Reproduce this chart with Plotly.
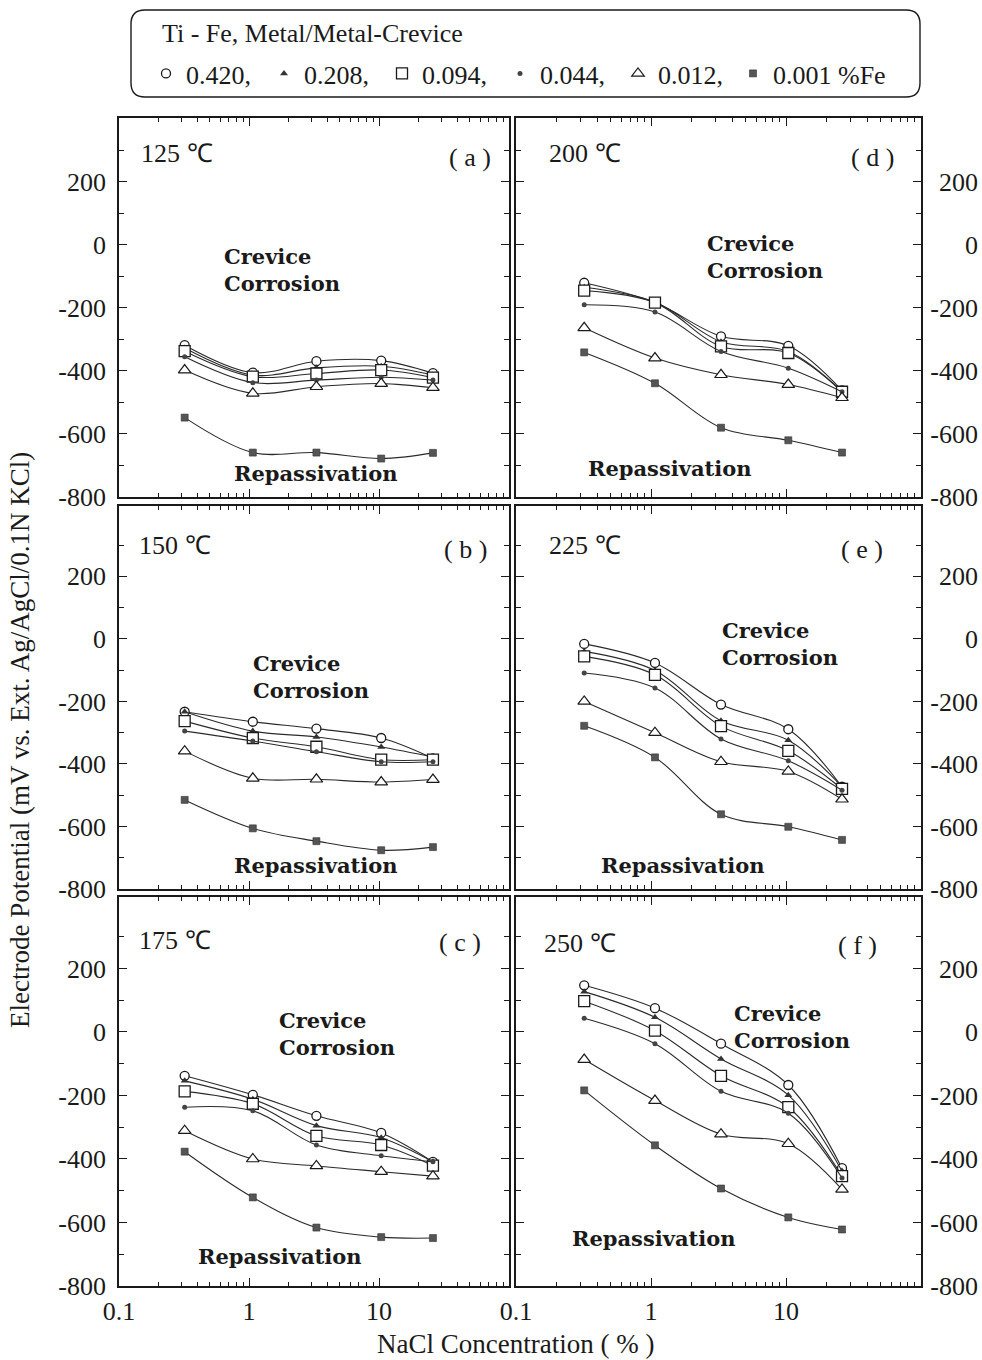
import plotly.graph_objects as go

W, H = 982, 1360

# ---------------- data ----------------
conc = [0.32, 1.07, 3.3, 10.4, 26]          # NaCl concentration (%)
fe_labels = ["0.420,", "0.208,", "0.094,", "0.044,", "0.012,", "0.001 %Fe"]
legend_title = "Ti - Fe, Metal/Metal-Crevice"

# series order: 0.420, 0.208, 0.094, 0.044, 0.012, 0.001 %Fe  (mV)
t125 = [[-318, -405, -369, -367, -407],
        [-327, -413, -390, -385, -413],
        [-337, -418, -408, -397, -421],
        [-355, -437, -429, -420, -429],
        [-397, -471, -450, -440, -453],
        [-548, -659, -659, -678, -660]]
t150 = [[-233, -265, -287, -317, -382],
        [-233, -295, -314, -346, -378],
        [-263, -317, -345, -386, -386],
        [-295, -327, -361, -393, -393],
        [-359, -446, -449, -458, -450],
        [-515, -606, -647, -676, -666]]
t175 = [[-138, -198, -264, -318, -409],
        [-154, -212, -295, -333, -409],
        [-187, -226, -327, -356, -421],
        [-237, -248, -356, -390, -409],
        [-311, -400, -422, -440, -454],
        [-377, -521, -616, -646, -649]]
t200 = [[-120, -183, -290, -320, -462],
        [-134, -181, -307, -338, -465],
        [-145, -183, -322, -343, -466],
        [-190, -213, -338, -391, -466],
        [-263, -359, -412, -443, -485],
        [-341, -439, -580, -620, -659]]
t225 = [[-16, -77, -210, -289, -473],
        [-40, -101, -262, -324, -473],
        [-56, -115, -279, -358, -480],
        [-109, -157, -320, -390, -484],
        [-200, -300, -393, -424, -513],
        [-278, -379, -561, -601, -643]]
t250 = [[147, 75, -37, -167, -429],
        [127, 46, -85, -199, -438],
        [97, 4, -138, -237, -454],
        [43, -37, -187, -256, -460],
        [-87, -216, -322, -352, -496],
        [-184, -357, -493, -584, -622]]

temp_labels = ["125 \u2103", "150 \u2103", "175 \u2103", "200 \u2103", "225 \u2103", "250 \u2103"]
panel_letters = ["( a )", "( b )", "( c )", "( d )", "( e )", "( f )"]
panel_data = [t125, t150, t175, t200, t225, t250]

x_tickvals = [0.1, 1, 10]
x_ticktext = ["0.1", "1", "10"]
y_tickvals = [-800, -600, -400, -200, 0, 200]
y_ticktext = [str(v) for v in y_tickvals]
y_minor = [-700, -500, -300, -100, 100, 300]
x_minor = [m * d for d in (0.1, 1, 10) for m in range(2, 10)]

# ---------------- styling ----------------
SERIF = "Liberation Serif, Times New Roman, serif"
BOLD = "DejaVu Serif, serif"
INK = "#1a1a1a"

marker_styles = [
    dict(symbol="circle", size=9, color="white", line=dict(color=INK, width=1.3)),
    dict(symbol="triangle-up", size=7, color="#333", line=dict(color="#333", width=0)),
    dict(symbol="square", size=11, color="white", line=dict(color=INK, width=1.3)),
    dict(symbol="circle", size=5, color="#444", line=dict(color="#444", width=0)),
    dict(symbol="triangle-up", size=11, color="white", line=dict(color=INK, width=1.2)),
    dict(symbol="square", size=7, color="#555", line=dict(color="#333", width=0.6)),
]

# panel geometry in page pixels: (col, row)
cols_px = [(119, 509), (516, 921)]
rows_px = [(118, 497), (506, 889), (897, 1286)]
row_yrange = [(-800, 403), (-800, 425), (-800, 425)]
panel_pos = [(0, 0), (0, 1), (0, 2), (1, 0), (1, 1), (1, 2)]
right_label_edge = 978   # right-aligned tick labels of the right column

# text positions (page pixel centres)
temp_pos = [(177, 153), (175, 545), (175, 940), (585, 153), (585, 545), (580, 943)]
letter_pos = [(470, 157), (465, 549), (460, 942), (872, 157), (862, 549), (857, 945)]
crev_pos = [(222, 270), (251, 677), (277, 1034), (705, 257), (720, 644), (732, 1027)]
rep_pos = [(316, 473), (316, 865), (280, 1256), (670, 468), (683, 865), (654, 1238)]


def px(x, y):
    return x / W, 1 - y / H


def note(text, x, y, font, xanchor="center", **kw):
    a, b = px(x, y)
    return dict(text=text, x=a, y=b, xref="paper", yref="paper", xanchor=xanchor,
                yanchor="middle", showarrow=False, font=font, **kw)


fig = go.Figure()
layout = {}
annotations = []
f_reg = dict(family=SERIF, size=26, color=INK)
f_bold = dict(family=BOLD, size=21, color=INK)

extra = 7
for i, data in enumerate(panel_data):
    n = i + 1
    col, row = panel_pos[i]
    xa = "x" if n == 1 else f"x{n}"
    ya = "y" if n == 1 else f"y{n}"
    for s, vals in enumerate(data):
        fig.add_trace(go.Scatter(
            x=conc, y=vals, xaxis=xa, yaxis=ya,
            mode="lines+markers",
            line=dict(color="#2a2a2a", width=1.1, shape="spline", smoothing=1.0),
            marker=marker_styles[s], showlegend=False, hoverinfo="x+y"))
    x0, _ = px(cols_px[col][0], 0)
    x1, _ = px(cols_px[col][1], 0)
    _, yt = px(0, rows_px[row][0])
    _, yb = px(0, rows_px[row][1])
    bottom = row == 2
    layout["xaxis" if n == 1 else f"xaxis{n}"] = dict(
        type="log", range=[-1, 2], domain=[x0, x1],
        anchor=ya, showline=True, linecolor=INK, linewidth=1.6, mirror="ticks",
        ticks="inside", ticklen=8, tickwidth=1.2, tickcolor=INK,
        tickvals=x_tickvals, ticktext=x_ticktext, showticklabels=bottom,
        minor=dict(tickvals=x_minor, ticks="inside", ticklen=4, tickwidth=1, tickcolor=INK, showgrid=False),
        showgrid=False, zeroline=False, ticklabelstandoff=1, automargin=False,
        tickfont=f_reg)
    layout["yaxis" if n == 1 else f"yaxis{n}"] = dict(
        range=list(row_yrange[row]), domain=[yb, yt],
        anchor=xa, side="left" if col == 0 else "right",
        showline=True, linecolor=INK, linewidth=1.6, mirror="ticks",
        ticks="inside", ticklen=8, tickwidth=1.2, tickcolor=INK,
        tickvals=y_tickvals, ticktext=y_ticktext, showticklabels=(col == 0),
        minor=dict(tickvals=y_minor, ticks="inside", ticklen=5, tickwidth=1, tickcolor=INK, showgrid=False),
        showgrid=False, zeroline=False, ticklabelstandoff=6, automargin=False,
        tickfont=f_reg)
    if col == 1:
        # label-only axis so the right-column numbers are right-aligned as in the original
        lab_ax = f"y{extra}"
        fig.add_trace(go.Scatter(x=[None], y=[None], xaxis=xa, yaxis=lab_ax,
                                 showlegend=False, hoverinfo="skip"))
        layout[f"yaxis{extra}"] = dict(
            range=list(row_yrange[row]), overlaying=ya, anchor="free",
            position=px(right_label_edge, 0)[0], side="left",
            showline=False, ticks="", showgrid=False, zeroline=False,
            tickvals=y_tickvals, ticktext=y_ticktext, ticklabelstandoff=0,
            automargin=False, tickfont=f_reg)
        extra += 1

    annotations.append(note(temp_labels[i], *temp_pos[i], f_reg))
    annotations.append(note(panel_letters[i], *letter_pos[i], f_reg))
    annotations.append(note("<b>Crevice</b><br><b>Corrosion</b>", *crev_pos[i], f_bold,
                            xanchor="left", align="left"))
    annotations.append(note("<b>Repassivation</b>", *rep_pos[i], f_bold))

# legend-only traces (last entry in a second legend so its longer text is not clipped)
for s, lab in enumerate(fe_labels):
    fig.add_trace(go.Scatter(x=[None], y=[None], mode="markers", marker=marker_styles[s],
                             name=lab, showlegend=True,
                             legend="legend" if s < len(fe_labels) - 1 else "legend2"))

annotations.append(note(legend_title, 160, 33, f_reg, xanchor="left"))
annotations.append(note("Electrode Potential (mV vs. Ext. Ag/AgCl/0.1N KCl)", 20, 740,
                        dict(family=SERIF, size=27, color=INK), textangle=-90))
annotations.append(note("NaCl Concentration ( % )", 515, 1344, dict(family=SERIF, size=27, color=INK)))

# rounded legend box
bx0, bx1, by0, by1, r = 131, 920, 10, 97, 14
def P(x, y):
    a, b = px(x, y)
    return f"{a:.5f},{b:.5f}"
path = (f"M {P(bx0 + r, by0)} L {P(bx1 - r, by0)} Q {P(bx1, by0)} {P(bx1, by0 + r)} "
        f"L {P(bx1, by1 - r)} Q {P(bx1, by1)} {P(bx1 - r, by1)} "
        f"L {P(bx0 + r, by1)} Q {P(bx0, by1)} {P(bx0, by1 - r)} "
        f"L {P(bx0, by0 + r)} Q {P(bx0, by0)} {P(bx0 + r, by0)} Z")

lx, ly = px(146, 50)
lx2, _ = px(733, 50)
leg_common = dict(orientation="h", y=ly, xanchor="left", yanchor="top",
                  font=f_reg, itemwidth=30, bgcolor="rgba(0,0,0,0)", borderwidth=0)
fig.update_layout(
    width=W, height=H, margin=dict(l=0, r=0, t=0, b=0, autoexpand=False),
    paper_bgcolor="white", plot_bgcolor="white",
    annotations=annotations,
    shapes=[dict(type="path", path=path, xref="paper", yref="paper",
                 line=dict(color=INK, width=1.4), fillcolor="rgba(0,0,0,0)")],
    legend=dict(x=lx, entrywidth=73, entrywidthmode="pixels", **leg_common),
    legend2=dict(x=lx2, **leg_common),
    **layout)

# the page body has a default 8px margin; remove it so the figure fills the window exactly
fig.write_html("out.html", config={"displayModeBar": False},
               post_script="document.body.style.margin='0';document.body.style.overflow='hidden';")
